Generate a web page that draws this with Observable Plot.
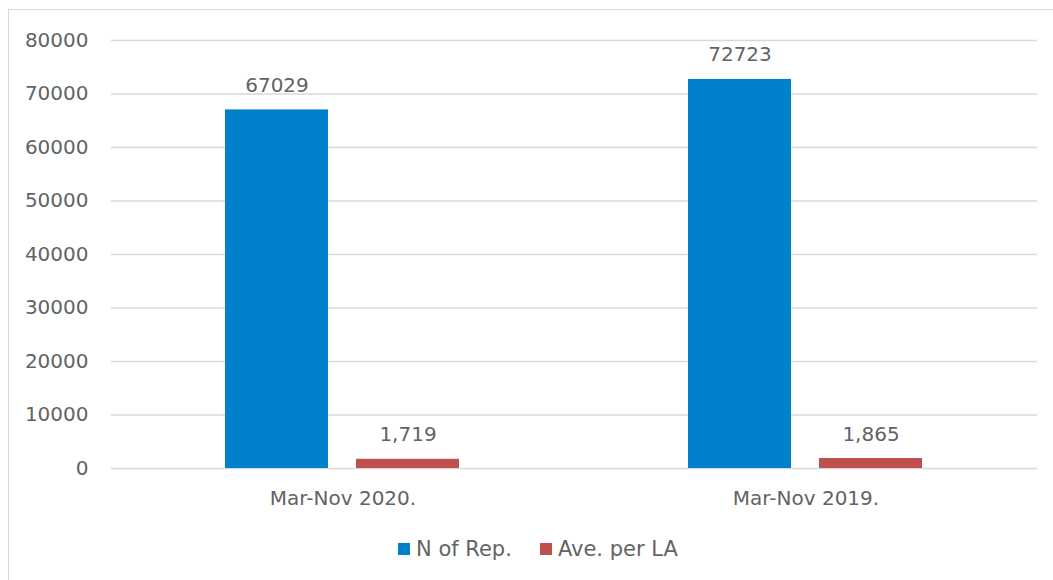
<!DOCTYPE html>
<html>
<head>
<meta charset="utf-8">
<script src="https://cdn.jsdelivr.net/npm/d3@7"></script>
<script src="https://cdn.jsdelivr.net/npm/@observablehq/plot@0.6"></script>
<style>
  html, body { margin: 0; padding: 0; background: #fff; overflow: hidden; }
  #frame { position: absolute; left: 8px; top: 9px; width: 1200px; height: 700px;
           border-top: 1.5px solid #d9d9d9; border-left: 1.5px solid #d9d9d9; }
  #chart { position: absolute; left: 0; top: 0; }
  #legend { position: absolute; left: 398px; top: 537px; display: flex; align-items: center;
            font-family: "DejaVu Sans", sans-serif; font-size: 21px; color: #636363; }
  .item { display: flex; align-items: center; margin-right: 28px; }
  .sw { width: 12px; height: 12px; margin-right: 6px; }
</style>
</head>
<body>
<div id="frame"></div>
<div id="chart"></div>
<div id="legend"></div>
<script>
const groups = ["Mar-Nov 2020.", "Mar-Nov 2019."];
const series = ["N of Rep.", "Ave. per LA"];
const nOfRep = [67029, 72723];
const avePerLA = [1719, 1865];
const nOfRepLabels = ["67029", "72723"];
const avePerLALabels = ["1,719", "1,865"];
const yTicks = [0, 10000, 20000, 30000, 40000, 50000, 60000, 70000, 80000];
const colors = ["#0081CB", "#C0504D"];

const data = [];
groups.forEach((g, i) => {
  data.push({group: g, series: series[0], value: nOfRep[i], label: nOfRepLabels[i]});
  data.push({group: g, series: series[1], value: avePerLA[i], label: avePerLALabels[i]});
});

const chart = Plot.plot({
  width: 1053,
  height: 520,
  marginLeft: 110,
  marginRight: 16,
  marginTop: 40,
  marginBottom: 52,
  style: {fontFamily: "DejaVu Sans, sans-serif", fontSize: "20px", color: "#636363", background: "transparent", overflow: "visible"},
  fx: {domain: groups, padding: 0, label: null, axis: "bottom", tickSize: 0, tickPadding: 22},
  x: {domain: series, axis: null, paddingInner: 0.212, paddingOuter: 0.862},
  y: {domain: [0, 80000], ticks: yTicks, tickSize: 0, tickPadding: 23, label: null, tickFormat: d3.format("d")},
  color: {domain: series, range: colors},
  marks: [
    Plot.ruleY(yTicks, {stroke: "#d9d9d9", strokeWidth: 1.5}),
    Plot.barY(data, {fx: "group", x: "series", y: "value", fill: "series"}),
    Plot.text(data, {fx: "group", x: "series", y: "value", text: "label", dy: -18, lineAnchor: "bottom", fill: "#636363", fontSize: 20})
  ]
});
document.getElementById("chart").appendChild(chart);

const legend = document.getElementById("legend");
series.forEach((s, i) => {
  const item = document.createElement("div");
  item.className = "item";
  const sw = document.createElement("div");
  sw.className = "sw";
  sw.style.background = colors[i];
  const t = document.createElement("span");
  t.textContent = s;
  item.appendChild(sw);
  item.appendChild(t);
  legend.appendChild(item);
});
</script>
</body>
</html>
